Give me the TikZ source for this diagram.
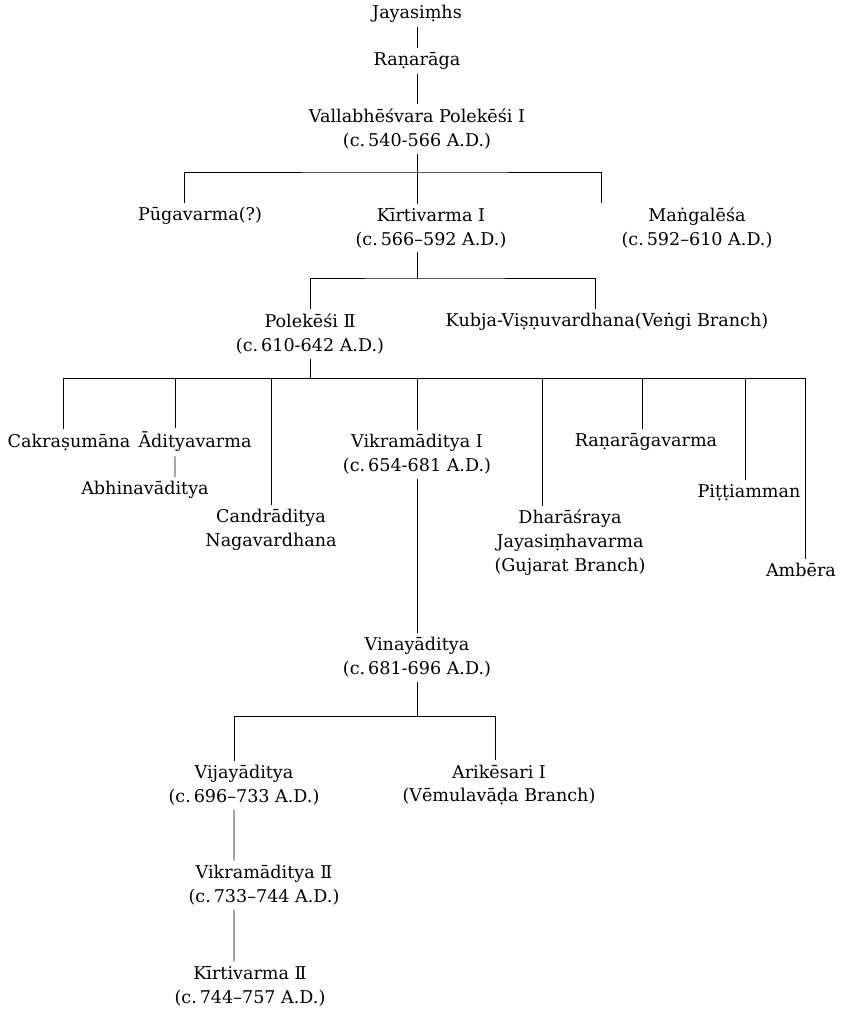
\documentclass[tikz,border=0pt]{standalone}
\usepackage{fontspec}
\setmainfont{DejaVu Serif}
\begin{document}
\begin{tikzpicture}[
    x=0.025cm, y=-0.025cm,
    font=\fontsize{12.5}{17}\selectfont,
    king/.style={align=center, inner xsep=2pt, inner ysep=3pt},
    link/.style={line width=0.6pt}
  ]
  \useasboundingbox (0,0) rectangle (841,1015);
  % first generations
  \node[king] (jay) at (417,14) {Jayasiṃhs};
  \node[king] (ran) at (417,61) {Raṇarāga};
  \node[king] (pol1) at (417,129) {Vallabhēśvara Polekēśi I\\(c.\,540-566 A.D.)};
  \node[king] (pug) at (200,216) {Pūgavarma(?)};
  \node[king] (kir1) at (431,228) {Kīrtivarma I\\(c.\,566–592 A.D.)};
  \node[king] (man) at (697,228) {Maṅgalēśa\\(c.\,592–610 A.D.)};
  \node[king] (pol2) at (310,334) {Polekēśi Ⅱ\\(c.\,610-642 A.D.)};
  \node[king] (kub) at (607,322) {Kubja-Viṣṇuvardhana(Veṅgi Branch)};
  % sons of Polekesi II
  \node[king] (cak) at (69,442) {Cakraṣumāna};
  \node[king] (adi) at (195,442) {Ādityavarma};
  \node[king] (abh) at (145,490) {Abhinavāditya};
  \node[king] (can) at (271,530) {Candrāditya\\Nagavardhana};
  \node[king] (vik1) at (417,454) {Vikramāditya I\\(c.\,654-681 A.D.)};
  \node[king] (dha) at (570,543) {Dharāśraya\\Jayasiṃhavarma\\(Gujarat Branch)};
  \node[king] (rrv) at (646,442) {Raṇarāgavarma};
  \node[king] (pit) at (749,493) {Piṭṭiamman};
  \node[king] (amb) at (801,570) {Ambēra};
  % later line
  \node[king] (vin) at (417,657) {Vinayāditya\\(c.\,681-696 A.D.)};
  \node[king] (vij) at (244,785) {Vijayāditya\\(c.\,696–733 A.D.)};
  \node[king] (ari) at (499,785) {Arikēsari I\\(Vēmulavāḍa Branch)};
  \node[king] (vik2) at (264,885) {Vikramāditya Ⅱ\\(c.\,733–744 A.D.)};
  \node[king] (kir2) at (250,986) {Kīrtivarma Ⅱ\\(c.\,744–757 A.D.)};

  \coordinate (b1) at (417,172);
  \coordinate (b2) at (417,278);
  \coordinate (b3) at (310,378);
  \coordinate (b4) at (417,716);

  \draw[link] (jay) -- (ran);
  \draw[link] (ran) -- (pol1);
  \draw[link] (pol1) -- (b1);
  \draw[link] ([xshift=-0.38cm]pug.north) |- (b1) -| ([xshift=-2.4cm]man.north);
  \draw[link] (b1) -- (b1 |- kir1.north);
  \draw[link] (b1 |- kir1.south) -- (b2);
  \draw[link] (pol2.north) |- (b2) -| ([xshift=-0.3cm]kub.north);
  \draw[link] (pol2) -- (b3);
  \draw[link] ([xshift=-0.15cm]cak.north) |- (b3) -| ([xshift=0.1cm]amb.north);
  \foreach \n/\s in {adi/-0.5cm, can/0cm, vik1/0cm, dha/-0.7cm, rrv/-0.08cm, pit/-0.08cm}
    \draw[link] ([xshift=\s]\n.north) |- (b3);
  \draw[link] ([xshift=-0.5cm]adi.south) -- ([xshift=0.75cm]abh.north);
  \draw[link] (vik1) -- (vin);
  \draw[link] (vin) -- (b4);
  \draw[link] ([xshift=-0.25cm]vij.north) |- (b4) -| ([xshift=-0.1cm]ari.north);
  \draw[link] ([xshift=-0.25cm]vij.south) -- ([xshift=-0.75cm]vik2.north);
  \draw[link] ([xshift=-0.75cm]vik2.south) -- ([xshift=-0.4cm]kir2.north);
\end{tikzpicture}
\end{document}
